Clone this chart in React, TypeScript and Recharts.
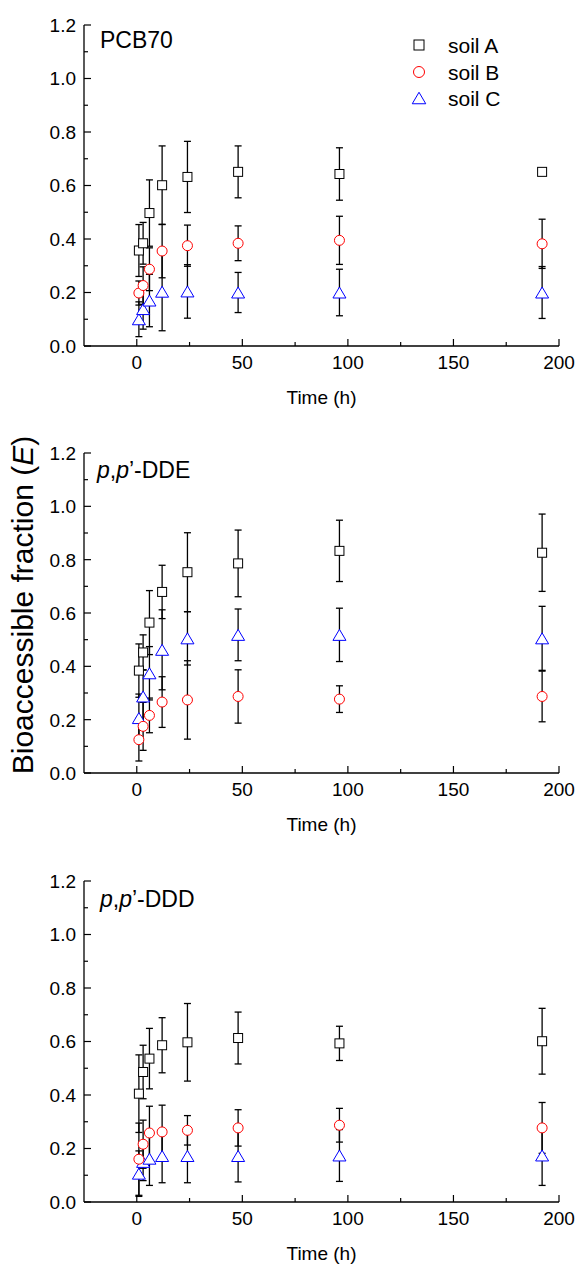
import React from "react";
import { ScatterChart, Scatter, XAxis, YAxis, ErrorBar, Legend } from "recharts";

const hours = [1, 3, 6, 12, 24, 48, 96, 192];

const pcbA = [0.357, 0.384, 0.497, 0.601, 0.632, 0.651, 0.643, 0.651];
const pcbAErr = [0.097, 0.078, 0.124, 0.147, 0.133, 0.097, 0.098, 0.01];
const pcbB = [0.198, 0.226, 0.287, 0.355, 0.375, 0.384, 0.395, 0.382];
const pcbBErr = [0.045, 0.07, 0.08, 0.1, 0.077, 0.065, 0.09, 0.092];
const pcbC = [0.1, 0.138, 0.17, 0.203, 0.204, 0.2, 0.2, 0.2];
const pcbCErr = [0.065, 0.075, 0.098, 0.146, 0.1, 0.075, 0.087, 0.097];

const ddeA = [0.384, 0.452, 0.564, 0.679, 0.753, 0.786, 0.833, 0.826];
const ddeAErr = [0.1, 0.066, 0.12, 0.1, 0.148, 0.125, 0.115, 0.145];
const ddeB = [0.125, 0.175, 0.216, 0.266, 0.274, 0.287, 0.277, 0.287];
const ddeBErr = [0.08, 0.09, 0.065, 0.095, 0.147, 0.1, 0.05, 0.095];
const ddeC = [0.206, 0.287, 0.374, 0.462, 0.505, 0.518, 0.518, 0.505];
const ddeCErr = [0.09, 0.1, 0.1, 0.15, 0.1, 0.097, 0.1, 0.12];

const dddA = [0.405, 0.486, 0.536, 0.586, 0.597, 0.613, 0.593, 0.601];
const dddAErr = [0.145, 0.1, 0.113, 0.103, 0.145, 0.097, 0.064, 0.123];
const dddB = [0.16, 0.216, 0.258, 0.262, 0.268, 0.277, 0.287, 0.277];
const dddBErr = [0.135, 0.09, 0.1, 0.1, 0.055, 0.068, 0.063, 0.095];
const dddC = [0.106, 0.15, 0.162, 0.172, 0.172, 0.172, 0.174, 0.174];
const dddCErr = [0.085, 0.07, 0.1, 0.1, 0.1, 0.097, 0.097, 0.112];

const xTicks = [0, 25, 50, 75, 100, 125, 150, 175, 200];
const yTicks = [0, 0.1, 0.2, 0.3, 0.4, 0.5, 0.6, 0.7, 0.8, 0.9, 1.0, 1.1, 1.2];
const soils = ["soil A", "soil B", "soil C"];

const FONT = "'Liberation Sans', Arial, sans-serif";

const rows = (vals: number[], errs: number[]) =>
  hours.map((t, i) => ({ t, v: vals[i], e: errs[i] }));

const Square = ({ cx, cy, s = 9 }: any) => (
  <rect x={cx - s / 2} y={cy - s / 2} width={s} height={s} fill="#fff" stroke="#000" strokeWidth={1} />
);
const Circle = ({ cx, cy, r = 5 }: any) => (
  <circle cx={cx} cy={cy} r={r} fill="#fff" stroke="#ff0000" strokeWidth={1} />
);
const Triangle = ({ cx, cy, w = 13, h = 11 }: any) => (
  <path
    d={`M${cx - w / 2},${cy + h / 2} L${cx + w / 2},${cy + h / 2} L${cx},${cy - h / 2} Z`}
    fill="#fff"
    stroke="#0000ff"
    strokeWidth={1}
  />
);

const XTick = ({ x, y, payload }: any) => {
  const major = payload.value % 50 === 0;
  return (
    <g>
      <line x1={x} x2={x} y1={y} y2={y - (major ? 7 : 4)} stroke="#000" strokeWidth={1.2} />
      {major && (
        <text x={x} y={y + 23} textAnchor="middle" fontSize={19} fontFamily={FONT} fill="#000">
          {payload.value}
        </text>
      )}
    </g>
  );
};

const YTick = ({ x, y, payload }: any) => {
  const major = Math.round(payload.value * 10) % 2 === 0;
  return (
    <g>
      <line x1={x} x2={x + (major ? 7 : 4)} y1={y} y2={y} stroke="#000" strokeWidth={1.2} />
      {major && (
        <text x={x - 8} y={y} dy="0.36em" textAnchor="end" fontSize={19} fontFamily={FONT} fill="#000">
          {payload.value.toFixed(1)}
        </text>
      )}
    </g>
  );
};

const LegendBox = () => (
  <svg width={170} height={90} style={{ display: "block" }}>
    <Square cx={14} cy={15} s={10} />
    <Circle cx={14} cy={42} r={5.5} />
    <Triangle cx={14} cy={68} w={13.5} h={11.5} />
    {soils.map((s, i) => (
      <text key={s} x={43} y={23 + i * 26.5} fontSize={21} fontFamily={FONT} fill="#000">
        {s}
      </text>
    ))}
  </svg>
);

function Panel({ top, xh, a, aErr, b, bErr, c, cErr, legend }: any) {
  return (
    <div style={{ position: "absolute", left: 0, top }}>
      <ScatterChart width={579} height={410} margin={{ top: 25, right: 20, left: 0, bottom: 0 }}>
        <XAxis
          type="number"
          dataKey="t"
          domain={[-25, 200]}
          ticks={xTicks}
          interval={0}
          height={xh}
          tickSize={0}
          tickMargin={0}
          tick={<XTick />}
          axisLine={{ stroke: "#000", strokeWidth: 1.3 }}
          allowDataOverflow
        />
        <YAxis
          type="number"
          dataKey="v"
          domain={[0, 1.2]}
          ticks={yTicks}
          interval={0}
          width={84}
          tickSize={0}
          tickMargin={0}
          tick={<YTick />}
          axisLine={{ stroke: "#000", strokeWidth: 1.3 }}
          allowDataOverflow
        />
        {legend && (
          <Legend
            layout="vertical"
            align="center"
            verticalAlign="middle"
            content={() => <LegendBox />}
            wrapperStyle={{ left: 405, top: 30, width: 170, height: 90 }}
          />
        )}
        <Scatter name={soils[2]} data={rows(c, cErr)} isAnimationActive={false} shape={(p: any) => <Triangle cx={p.cx} cy={p.cy} />}>
          <ErrorBar dataKey="e" direction="y" width={3.5} stroke="#000" strokeWidth={1.3} />
        </Scatter>
        <Scatter name={soils[1]} data={rows(b, bErr)} isAnimationActive={false} shape={(p: any) => <Circle cx={p.cx} cy={p.cy} />}>
          <ErrorBar dataKey="e" direction="y" width={3.5} stroke="#000" strokeWidth={1.3} />
        </Scatter>
        <Scatter name={soils[0]} data={rows(a, aErr)} isAnimationActive={false} shape={(p: any) => <Square cx={p.cx} cy={p.cy} />}>
          <ErrorBar dataKey="e" direction="y" width={3.5} stroke="#000" strokeWidth={1.3} />
        </Scatter>
      </ScatterChart>
    </div>
  );
}

export default function App() {
  const txt = { fontFamily: FONT, fill: "#000" };
  return (
    <div style={{ position: "absolute", left: 0, top: 0, width: 579, height: 1266, background: "#fff" }}>
      <Panel top={0} xh={64} a={pcbA} aErr={pcbAErr} b={pcbB} bErr={pcbBErr} c={pcbC} cErr={pcbCErr} legend />
      <Panel top={428} xh={65} a={ddeA} aErr={ddeAErr} b={ddeB} bErr={ddeBErr} c={ddeC} cErr={ddeCErr} />
      <Panel top={856} xh={64} a={dddA} aErr={dddAErr} b={dddB} bErr={dddBErr} c={dddC} cErr={dddCErr} />
      <svg width={579} height={1266} style={{ position: "absolute", left: 0, top: 0, pointerEvents: "none" }}>
        <text x={100} y={48} fontSize={23} {...txt}>PCB70</text>
        <text x={97} y={478} fontSize={23} {...txt}>
          <tspan fontStyle="italic">p</tspan>,<tspan fontStyle="italic">p</tspan>’-DDE
        </text>
        <text x={100} y={907} fontSize={23} {...txt}>
          <tspan fontStyle="italic">p</tspan>,<tspan fontStyle="italic">p</tspan>’-DDD
        </text>
        {[404, 831, 1260].map((y) => (
          <text key={y} x={321.5} y={y} fontSize={19} textAnchor="middle" {...txt}>Time (h)</text>
        ))}
        <text transform="translate(33,605) rotate(-90)" fontSize={30} textAnchor="middle" {...txt}>
          Bioaccessible fraction (<tspan fontStyle="italic">E</tspan>)
        </text>
      </svg>
    </div>
  );
}
